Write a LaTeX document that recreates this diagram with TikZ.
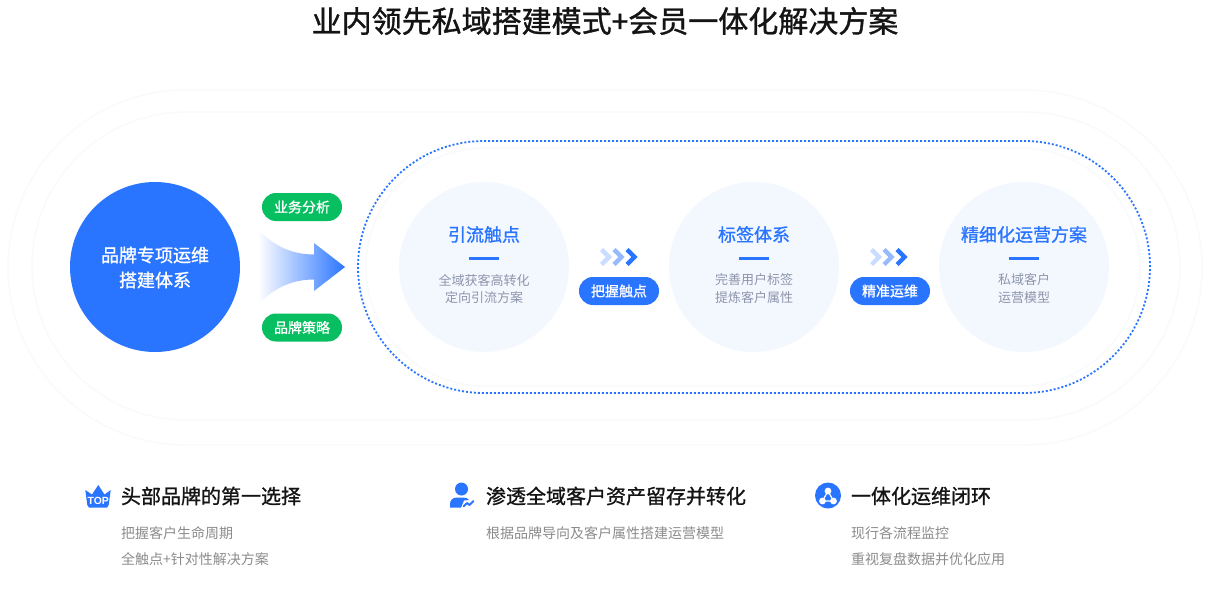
\documentclass[tikz,border=0pt]{standalone}
\usepackage{fontspec}
\setmainfont{Noto Sans CJK SC}
\newfontfamily\med[FakeBold=1.1]{Noto Sans CJK SC}
\newfontfamily\latn{Liberation Sans}
\definecolor{brand}{HTML}{2A75FF}
\definecolor{grn}{HTML}{07BF60}
\definecolor{pale}{HTML}{F3F8FF}
\definecolor{faint}{HTML}{F9FAFD}
\definecolor{subtxt}{HTML}{8D95AB}
\definecolor{greytxt}{HTML}{8C8C8C}
\definecolor{ink}{HTML}{141414}
\newcommand{\fs}[1]{\fontsize{#1}{#1}\selectfont}
\tikzset{
 x=0.75pt,y=-0.75pt,
 every node/.style={inner sep=0pt,outer sep=0pt},
 bigdisc/.style={circle,fill=brand,minimum size=127.5pt},
 paledisc/.style={circle,fill=pale,minimum size=127.5pt},
 greenpill/.style={rectangle,rounded corners=10.4pt,fill=grn,minimum width=60pt,minimum height=21pt,text=white,font=\fs{10.5}\med},
 bluepill/.style={rectangle,rounded corners=10.4pt,fill=brand,minimum width=60pt,minimum height=21pt,text=white,font=\fs{10.5}\med},
 headtxt/.style={text=brand,font=\fs{13.5}\med},
 subtx/.style={text=subtxt,font=\fs{9.75},align=center},
 bar/.style={draw=brand,line width=2.25pt},
 chev/.style={line width=3.2pt,miter limit=10},
 feat/.style={text=ink,font=\fs{15}\med,anchor=west},
 featsub/.style={text=greytxt,font=\fs{10.5},anchor=west},
 halo/.style={draw=faint,line width=1.1pt},
}
\begin{document}
\begin{tikzpicture}
\useasboundingbox (0,0) rectangle (1210,590);
\fill[white] (0,0) rectangle (1210,590);
% title
\node[text=ink,font=\fs{22.5}\med] (title) at (605,21) {业内领先私域搭建模式+会员一体化解决方案};
% halos
\draw[halo] (186,90) -- (1024,90) arc[start angle=90,end angle=-90,x radius=178,y radius=-177.5] -- (186,445) arc[start angle=270,end angle=90,x radius=178,y radius=-177.5] -- cycle;
\draw[halo] (186,112) -- (1026,112) arc[start angle=90,end angle=-90,x radius=154,y radius=-154] -- (186,420) arc[start angle=270,end angle=90,x radius=154,y radius=-154] -- cycle;
\draw[halo] (485,148) -- (1021,148) arc[start angle=90,end angle=-90,x radius=119,y radius=-119] -- (485,386) arc[start angle=270,end angle=90,x radius=119,y radius=-119] -- cycle;
% dotted pill
\draw[brand,line width=1.35pt,dash pattern=on 1.5pt off 1.5pt] (484,141) -- (1024,141) arc[start angle=90,end angle=-90,x radius=126,y radius=-126] -- (484,393) arc[start angle=270,end angle=90,x radius=126,y radius=-126] -- cycle;
% main disc
\node[bigdisc] (main) at (155,267) {};
\node[text=white,font=\fs{13.5}\med] (m1) at (155,255) {品牌专项运维};
\node[text=white,font=\fs{13.5}\med] (m2) at (155,280) {搭建体系};
% green pills
\node[greenpill] (g1) at (302,207) {业务分析};
\node[greenpill] (g2) at (302,327.5) {品牌策略};
% gradient arrow
\shade[left color=white,right color=brand]
 (258,229) .. controls (275,248) and (295,254.5) .. (314,254.5) -- (314,243) -- (345,267) -- (314,291) -- (314,279.5) .. controls (295,279.5) and (275,286) .. (258,305) -- cycle;
% pale discs
\node[paledisc] (d1) at (484,267) {};
\node[paledisc] (d2) at (754,267) {};
\node[paledisc] (d3) at (1024,267) {};
\node[headtxt] (h1) at (484,234.5) {引流触点};
\node[headtxt] (h2) at (754,234.5) {标签体系};
\node[headtxt] (h3) at (1024,234.5) {精细化运营方案};
\draw[bar] (469,258.5) -- (499,258.5);
\draw[bar] (739,258.5) -- (769,258.5);
\draw[bar] (1009,258.5) -- (1039,258.5);
\node[subtx] (s1a) at (484,280) {全域获客高转化};
\node[subtx] (s1b) at (484,298) {定向引流方案};
\node[subtx] (s2a) at (754,280) {完善用户标签};
\node[subtx] (s2b) at (754,298) {提炼客户属性};
\node[subtx] (s3a) at (1024,280) {私域客户};
\node[subtx] (s3b) at (1024,298) {运营模型};
% chevrons
\foreach \ox in {0,270}{
 \draw[chev,draw=brand!25] (\ox+601.5,249.5) -- (\ox+609,257) -- (\ox+601.5,264.5);
 \draw[chev,draw=brand!50] (\ox+614,249.5) -- (\ox+621.5,257) -- (\ox+614,264.5);
 \draw[chev,draw=brand] (\ox+627,249.5) -- (\ox+634.5,257) -- (\ox+627,264.5);
}
\node[bluepill] (b1) at (619,291) {把握触点};
\node[bluepill] (b2) at (890,291) {精准运维};
% crown icon
\fill[brand] (85.3,490) -- (92,494.5) -- (98.3,485) -- (104.5,494.5) -- (110.7,490) -- (108.7,505) -- (107,507.5) -- (89,507.5) -- (87.3,505) -- cycle;
\node[text=white,font=\latn\fs{7.8}\bfseries] (top) at (98.2,500.8) {TOP};
% person icon
\fill[brand] (461.5,489) circle[radius=6.5];
\fill[brand] (450,507.5) -- (450,504) .. controls (450,500) and (453,497.5) .. (457,497.5) -- (463,497.5) .. controls (466,497.5) and (468,498.5) .. (469,500) -- (464,500.5) -- (461,507.5) -- cycle;
\draw[brand,line width=1.5pt,line join=round,line cap=round] (463.5,506.5) -- (467,503) -- (469.5,505) -- (473.5,501);
% loop icon
\node[circle,fill=brand,minimum size=19.5pt] (loop) at (828,495.5) {};
\draw[white,line width=0.9pt] (828,491) -- (822.5,501) -- (833.5,501) -- cycle;
\fill[white] (828,491) circle[radius=3.4] (822.5,501) circle[radius=3.4] (833.5,501) circle[radius=3.4];
% features
\node[feat] (f1) at (121,496) {头部品牌的第一选择};
\node[featsub] (f1a) at (121,533) {把握客户生命周期};
\node[featsub] (f1b) at (121,559) {全触点+针对性解决方案};
\node[feat] (f2) at (486,496) {渗透全域客户资产留存并转化};
\node[featsub] (f2a) at (486,533) {根据品牌导向及客户属性搭建运营模型};
\node[feat] (f3) at (851,496) {一体化运维闭环};
\node[featsub] (f3a) at (851,533) {现行各流程监控};
\node[featsub] (f3b) at (851,559) {重视复盘数据并优化应用};
\end{tikzpicture}
\end{document}
